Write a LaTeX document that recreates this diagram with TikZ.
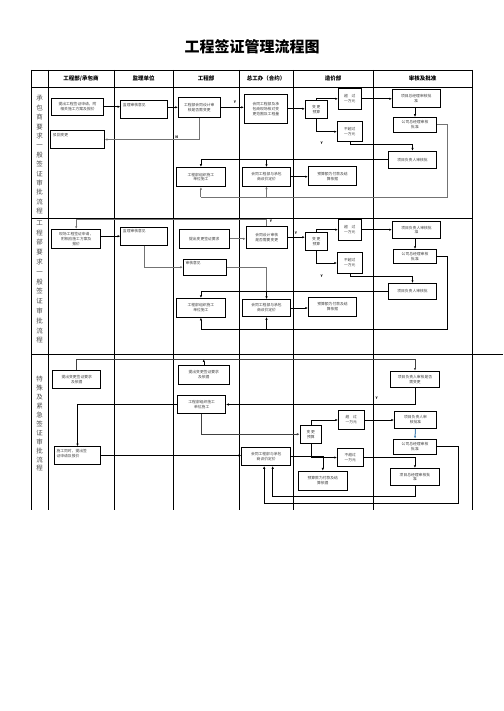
\documentclass[tikz,border=0pt]{standalone}
\usepackage{fontspec}
\setmainfont{Noto Sans CJK SC}
\usetikzlibrary{arrows.meta,calc}
\newcommand\mybox[6]{\node[box,minimum width=#4pt,minimum height=#5pt] (#1) at (#2,#3) {#6};}
\newcommand\myboxtl[6]{\node[box,minimum width=#4pt,minimum height=#5pt,label={[tltext]north west:#6}] (#1) at (#2,#3) {};}
\begin{document}
\begin{tikzpicture}[x=1pt,y=-1pt,
  box/.style={draw, line width=0.9pt, inner sep=0.5pt, align=center, font=\fontsize{3.8}{4.9}\selectfont, text=black!75},
  tltext/.style={anchor=north west, xshift=2.5pt, yshift=-2.5pt, inner sep=0pt, font=\fontsize{3.8}{4.9}\selectfont, text=black!75, align=left},
  tline/.style={line width=0.9pt},
  conn/.style={line width=0.6pt, -{Latex[length=2.6pt,width=2.4pt]}},
  gconn/.style={line width=1pt, draw=black!55, -{Latex[length=2.6pt,width=2.4pt]}},
  plain/.style={line width=0.6pt},
  gplain/.style={line width=1pt, draw=black!55},
  bconn/.style={line width=1pt, draw=blue!45!cyan!60!black!70, -{Latex[length=2.6pt,width=2.4pt]}},
  lab/.style={font=\fontsize{3.5}{4}\selectfont\bfseries, inner sep=0pt},
  head/.style={font=\fontsize{5.5}{6}\selectfont\bfseries, inner sep=0pt},
  rowlab/.style={align=center, text=black!70, inner sep=0pt},
]
\useasboundingbox (0,0) rectangle (503,711);

% title
\node[font=\fontsize{15}{16}\selectfont\bfseries, inner sep=0pt] (title) at (252,47) {工程签证管理流程图};

% table
\foreach \yy in {70,87,218} \draw[tline] (31,\yy) -- (472,\yy);
\draw[tline] (31,354) -- (503,354);
\foreach \xx in {31,48,114,173,239,293,373,472} \draw[tline] (\xx,70) -- (\xx,510);

% headers
\node[head] (h1) at (81,78.5) {工程部/承包商};
\node[head] (h2) at (143.5,78.5) {监理单位};
\node[head] (h3) at (206,78.5) {工程部};
\node[head] (h4) at (266,78.5) {总工办（合约）};
\node[head] (h5) at (333,78.5) {造价部};
\node[head] (h6) at (422.5,78.5) {审核及批准};

% row labels
\node[rowlab, font=\fontsize{6.5}{9.4}\selectfont] (L1) at (39.5,155) {承\\包\\商\\要\\求\\一\\般\\签\\证\\审\\批\\流\\程};
\node[rowlab, font=\fontsize{6.5}{9.8}\selectfont] (L2) at (39.5,282) {工\\程\\部\\要\\求\\一\\般\\签\\证\\审\\批\\流\\程};
\node[rowlab, font=\fontsize{6.5}{8.9}\selectfont] (L3) at (39.5,424) {特\\殊\\及\\紧\\急\\签\\证\\审\\批\\流\\程};

% ---------- row 1 ----------
\mybox{A1}{77.5}{106.7}{51.6}{16.7}{提出工程签证申请，附\\相关施工方案及报价}
\myboxtl{A2}{77.5}{139.5}{53.6}{17.6}{驳回变更}
\myboxtl{B1}{144}{109.5}{46.6}{17.6}{监理审核意见}
\mybox{C1}{199.2}{107.3}{41.7}{20}{工程部会同设计审\\核是否需变更}
\mybox{C2}{200.9}{177}{48.3}{19.4}{工程部组织施工\\单位施工}
\mybox{D1}{265.8}{108.8}{43}{29}{会同工程部及承\\包商现场核对变\\更范围及工程量}
\mybox{D2}{266.5}{176.7}{48.4}{18.7}{会同工程部与承包\\商议价定价}
\mybox{E1}{316.3}{109.5}{22}{17.6}{变\ 更\\预算}
\mybox{E2}{349.7}{98.8}{22.7}{21}{超\quad 过\\一万元}
\mybox{E3}{349.8}{131.7}{25}{20}{不超过\\一万元}
\mybox{E4}{332.5}{176.2}{48.4}{19}{预算额为付款及结\\算依据}
\mybox{F1}{416.2}{98.3}{47.7}{18}{项目总经理审核批\\准}
\mybox{F2}{415}{124.8}{43.4}{15}{公司总经理审核\\批准}
\mybox{F3}{412.5}{159.7}{48.4}{17.3}{项目负责人审核批}

\draw[conn] (A1.east) -- (A1.east -| B1.west);
\draw[conn] (C1.west -| B1.east) -- (C1.west);
\draw[conn] (C1.east) -- (C1.east -| D1.west);
\node[lab] (y1) at (235,101.7) {Y};
\draw[gconn] (C1.south) |- (A2.east);
\node[lab] (n1) at (176.7,137.3) {N};
\draw[conn] (D1.east) -- (D1.east -| E1.west);
\draw[conn] (E1.north) |- (E2.west);
\draw[conn] (E1.south) |- (E3.west);
\node[lab] (y2) at (321.7,142.7) {Y};
\draw[conn] (E2.east) -- (E2.east -| F1.west);
\draw[conn] (F2.north |- F1.south) -- (F2.north);
\draw[conn] (E3.south) -- ++(0,2.6) -| (F3.north);
\draw[plain] (F3.west) -- (F3.west -| C2.north);
\draw[conn] (F3.west -| C2.north) -- (C2.north);
\draw[conn] (F3.west -| D2.north) -- (D2.north);
\coordinate (r1) at (447.7,197.3);
\draw[gplain] (F2.east) -| (r1) -- (r1 -| C2.south);
\draw[gconn] (r1 -| C2.south) -- (C2.south);
\draw[gconn] (r1 -| D2.south) -- (D2.south);
\draw[conn] (D2.east) -- (D2.east -| E4.west);

% ---------- row 2 ----------
\mybox{A3}{76.2}{238.8}{49}{19}{现场工程签证申请，\\附相应施工方案及\\报价}
\myboxtl{B2}{144}{236.2}{46.6}{17.7}{监理审核意见}
\mybox{C3}{204.3}{238.8}{50}{19}{提出变更签证要求}
\myboxtl{C4}{205}{267.2}{43.4}{15.7}{审核意见}
\mybox{C5}{200.9}{307.8}{48.3}{19}{工程部组织施工\\单位施工}
\mybox{D3}{266.7}{237.2}{41.3}{22.3}{会同设计审核\\是否需要变更}
\mybox{D4}{266.5}{308}{48.4}{17.4}{会同工程部与承包\\商议价定价}
\mybox{E5}{316.3}{241.7}{22}{18}{变\ 更\\预算}
\mybox{E6}{349.7}{229.7}{22.7}{20.7}{超\quad 过\\一万元}
\mybox{E7}{349.8}{263}{25}{20.6}{不超过\\一万元}
\mybox{E8}{332.5}{307}{48.4}{19.4}{预算额为付款及结\\算依据}
\mybox{F4}{416.5}{230}{48.4}{16.6}{项目负责人审核批\\准}
\mybox{F5}{415}{256.3}{43.4}{14}{公司总经理审核\\批准}
\mybox{F6}{412.5}{291.3}{48.4}{16}{项目负责人审核批}

\draw[gconn] (D3.north) -- ++(0,-6) -| (A3.north);
\node[lab] (y3) at (271,221.5) {Y};
\draw[conn] (B2.west -| A3.east) -- (B2.west);
\draw[gconn] (B2.south) |- (C4.west);
\draw[gconn] (C3.east) -- (C3.east -| D3.west);
\draw[gconn] (C4.east) -| (D4.north);
\draw[plain] (F6.west) -- (F6.west -| C5.north);
\draw[conn] (F6.west -| C5.north) -- (C5.north);
\draw[conn] (F6.west -| D4.north) -- (D4.north);
\coordinate (r2) at (447.7,329.3);
\draw[plain] (F5.east) -| (r2) -- (r2 -| C5.south);
\draw[conn] (r2 -| C5.south) -- (C5.south);
\draw[conn] (r2 -| D4.south) -- (D4.south);
\draw[conn] (D3.east) -- (D3.east -| E5.west);
\node[lab] (y4) at (296,233.3) {Y};
\draw[conn] (E5.north) |- (E6.west);
\draw[conn] (E5.south) |- (E7.west);
\node[lab] (y5) at (321.7,275.7) {Y};
\draw[conn] (E6.east) -- (E6.east -| F4.west);
\draw[conn] (F5.north |- F4.south) -- (F5.north);
\draw[conn] (E7.south) -- ++(0,2.4) -| (F6.north);
\draw[conn] (D4.east) -- (D4.east -| E8.west);

% ---------- row 3 ----------
\mybox{A4}{76.7}{379.5}{48}{17.6}{提出变更签证要求\\及依据}
\myboxtl{A5}{77.5}{455.5}{46.4}{17.6}{施工同时，提出签\\证申请及报价}
\mybox{C6}{203.8}{374.7}{51}{19.3}{提出变更签证要求\\及依据}
\mybox{C7}{201.7}{404.5}{48}{17.6}{工程部组织施工\\单位施工}
\mybox{D5}{266.2}{456.5}{49}{18.4}{会同工程部与承包\\商议价定价}
\mybox{E9}{310.8}{434.2}{21.7}{18.3}{变\ 更\\预算}
\mybox{E10}{351.3}{420}{26}{18.6}{超\quad 过\\一万元}
\mybox{E11}{350.3}{457.5}{26}{18.4}{不超过\\一万元}
\mybox{E12}{322.8}{480.5}{49}{19}{预算款为付款及结\\算依据}
\mybox{F7}{415}{379.2}{48.6}{16.3}{项目负责人审核是否\\需变更}
\mybox{F8}{415.5}{419.7}{42.4}{17.3}{项目负责人审\\核批准}
\mybox{F9}{415}{446.5}{43.4}{15}{公司总经理审核\\批准}
\mybox{F10}{414.9}{477}{48.3}{17.4}{项目总经理审核批\\准}

\coordinate (top3) at (0,359.3);
\draw[conn, draw=black!75] (A4.north) -- (A4.north |- top3) -| (F7.north);
\draw[conn] (C6.north) -- (C6.north |- top3);
\node[lab] (y6) at (376.7,398.3) {Y};
\draw[conn] (F7.south) |- (C7.east);
\draw[conn] (C7.west) -| (A5.north);
\draw[conn, draw=black!75] (C7.south) |- (E9.west);
\draw[conn] (A5.east) -- (A5.east -| D5.west);
\draw[conn] (E9.north) |- (E10.west);
\draw[conn] (E9.south) |- (E11.west);
\draw[conn] (E10.east) -- (E10.east -| F8.west);
\draw[bconn] (F8.south) -- (F9.north);
\draw[conn] (E11.east) -| (F10.north);
\draw[conn] (D5.east) -| (E12.north);
\draw[conn] (F10.south) -- ++(0,10.3) -| ([xshift=6.5pt]D5.south);
\draw[conn] (F9.east) -- ++(21.6,0) -- ++(0,56.8) -| ([xshift=-2pt]D5.south);

\end{tikzpicture}
\end{document}
